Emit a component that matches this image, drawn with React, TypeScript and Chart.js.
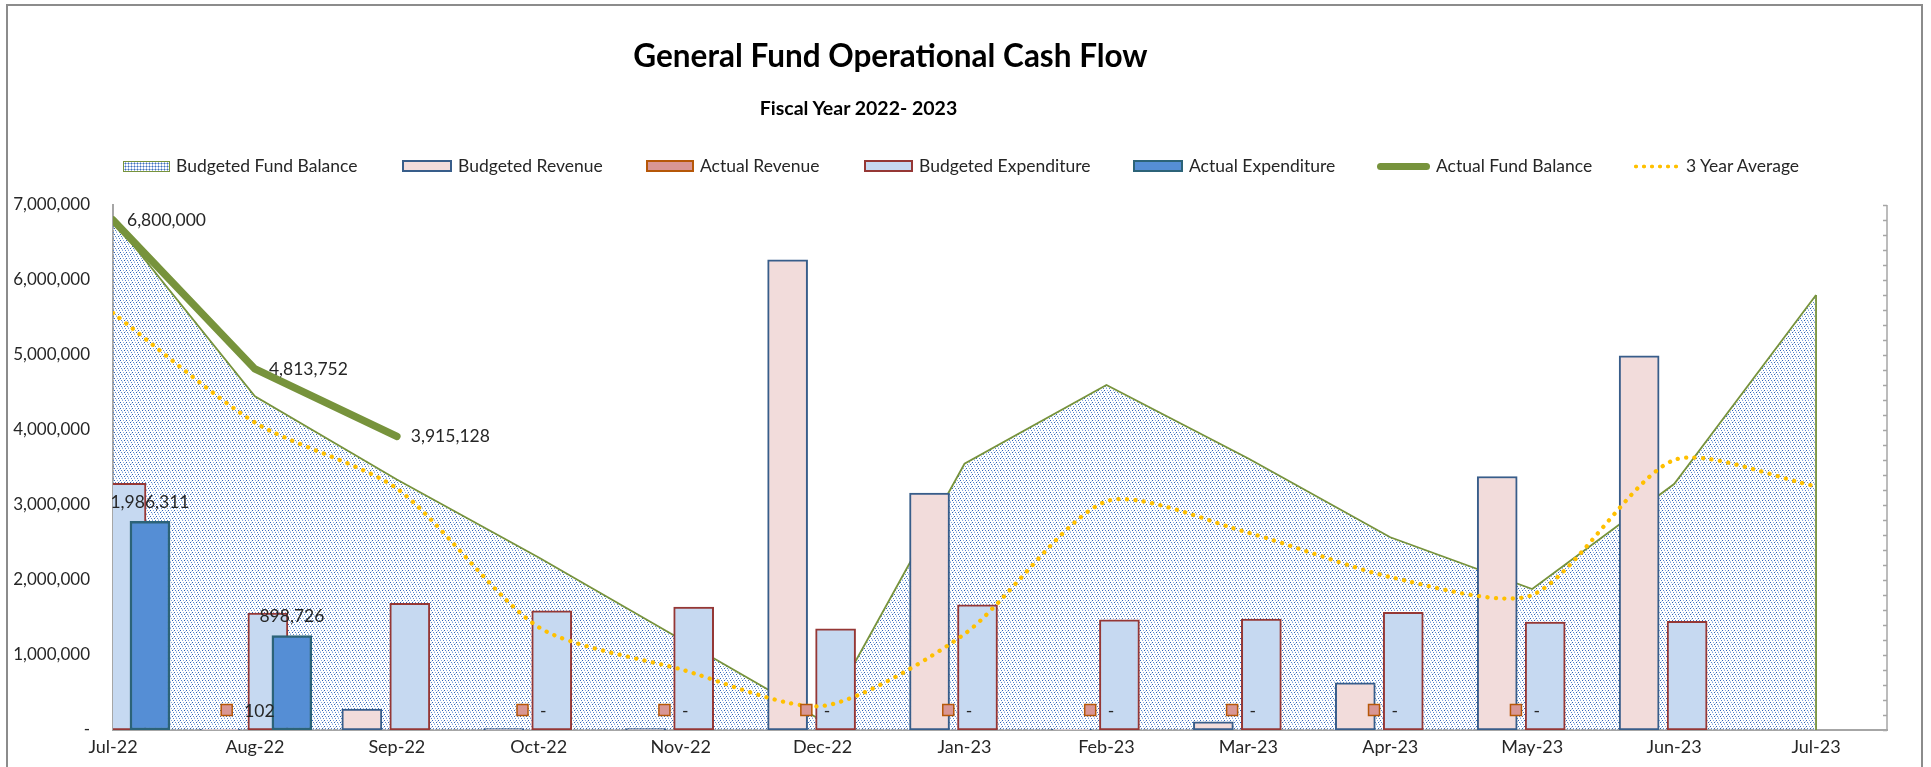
import React, { useEffect, useRef } from 'react';
import { Chart, registerables } from 'chart.js';

Chart.register(...registerables);

// ---------------- data ----------------
const months = ['Jul-22', 'Aug-22', 'Sep-22', 'Oct-22', 'Nov-22', 'Dec-22', 'Jan-23', 'Feb-23', 'Mar-23', 'Apr-23', 'May-23', 'Jun-23', 'Jul-23'];
const budgetedFundBalance = [6800000, 4450000, 3340000, 2300000, 1210000, 120000, 3550000, 4600000, 3620000, 2570000, 1880000, 3280000, 5800000];
const budgetedRevenue = [null, 10000, 280000, 20000, 20000, 6270000, 3160000, 10000, 110000, 630000, 3380000, 4990000, null];
const actualRevenue = [null, 102, null, 0, 0, 0, 0, 0, 0, 0, 0, null, null];
const budgetedExpenditure = [3290000, 1560000, 1690000, 1590000, 1640000, 1350000, 1670000, 1470000, 1480000, 1570000, 1440000, 1450000, null];
const actualExpenditure = [1986311, 898726, null, null, null, null, null, null, null, null, null, null, null];
const actualFundBalance = [6800000, 4813752, 3915128];
const threeYearAverage = [5560000, 4100000, 3220000, 1370000, 810000, 320000, 1280000, 3050000, 2630000, 2040000, 1800000, 3600000, 3250000];
const yTickValues = [0, 1000000, 2000000, 3000000, 4000000, 5000000, 6000000, 7000000];

// ---------------- style ----------------
const W = 1931;
const H = 767;
const FONT = 'Lato, "Open Sans", sans-serif';
const TEXT = '#262626';
const AXIS = '#A6A6A6';
const GREEN = '#77933C';
const GOLD = '#FFC000';
const C_BREV = { fill: '#F2DCDB', border: '#385D8A' };
const C_AREV = { fill: '#D99694', border: '#B65708' };
const C_BEXP = { fill: '#C6D9F1', border: '#953735' };
const C_AEXP = { fill: '#558ED5', border: '#2C6378' };
// bar slot offsets inside a month (in category units)
const SLOT = 0.169;
const SLOT_SHIFT = 0.007;
const slotOffset = (k: number) => (k - 1.5) * SLOT + SLOT_SHIFT;

const fmt = (v: number) => (v === 0 ? '-' : Math.round(v).toLocaleString('en-US'));

function makeDotPattern(ctx: CanvasRenderingContext2D) {
  const t = document.createElement('canvas');
  t.width = 6;
  t.height = 6;
  const c = t.getContext('2d')!;
  const dots: [number, number, string][] = [
    [0, 0, '#2F62B3'], [3, 0, '#86A8DE'], [1, 2, '#5585CC'], [4, 2, '#2F62B3'],
    [2, 4, '#86A8DE'], [5, 4, '#5585CC'], [5, 1, '#C0D2EF'], [2, 3, '#C0D2EF'],
  ];
  dots.forEach(([x, y, col]) => {
    c.fillStyle = col;
    c.fillRect(x, y, 1, 1);
  });
  return ctx.createPattern(t, 'repeat')!;
}

const pts = (arr: (number | null)[], off = 0) => arr.map((v, i) => ({ x: i + off, y: v }));

const customDraw = {
  id: 'customDraw',
  afterDatasetDraw(chart: any, args: any) {
    if (args.index !== 0) return;
    // right-hand closing edge of the budgeted fund balance area
    const meta = chart.getDatasetMeta(0);
    const last = meta.data[meta.data.length - 1];
    const ctx = chart.ctx;
    ctx.save();
    ctx.strokeStyle = GREEN;
    ctx.lineWidth = 1.8;
    ctx.beginPath();
    ctx.moveTo(last.x, last.y);
    ctx.lineTo(last.x, chart.scales.y.getPixelForValue(0));
    ctx.stroke();
    ctx.restore();
  },
  afterDatasetsDraw(chart: any) {
    const ctx = chart.ctx;
    const area = chart.chartArea;
    const yS = chart.scales.y;
    ctx.save();
    // right axis with inward tick marks
    ctx.strokeStyle = AXIS;
    ctx.lineWidth = 1.5;
    ctx.beginPath();
    ctx.moveTo(area.right, area.top);
    ctx.lineTo(area.right, area.bottom);
    for (let v = 0; v <= 7000000; v += 200000) {
      const y = Math.round(yS.getPixelForValue(v)) + 0.5;
      ctx.moveTo(area.right - 4, y);
      ctx.lineTo(area.right, y);
    }
    ctx.stroke();

    ctx.font = `17.5px ${FONT}`;
    ctx.fillStyle = TEXT;

    // actual fund balance labels
    const mFund = chart.getDatasetMeta(5);
    ctx.textAlign = 'left';
    ctx.textBaseline = 'middle';
    mFund.data.forEach((el: any, i: number) => {
      ctx.fillText(fmt(actualFundBalance[i]), el.x + 14, el.y);
    });

    // actual expenditure labels
    const mExp = chart.getDatasetMeta(4);
    ctx.textAlign = 'center';
    mExp.data.forEach((el: any, i: number) => {
      const v = actualExpenditure[i];
      if (v === null) return;
      ctx.fillText(fmt(v), el.x, el.y - 19);
    });

    // actual revenue labels with legend key
    const mRev = chart.getDatasetMeta(2);
    const base = yS.getPixelForValue(0) - 20;
    ctx.textAlign = 'left';
    mRev.data.forEach((el: any, i: number) => {
      const v = actualRevenue[i];
      if (v === null) return;
      const txt = fmt(v);
      const tw = ctx.measureText(txt).width;
      const gw = 11 + 12 + tw;
      const left = el.x + 4 - gw / 2;
      ctx.fillStyle = C_AREV.fill;
      ctx.strokeStyle = C_AREV.border;
      ctx.lineWidth = 1.5;
      ctx.fillRect(left, base - 5.5, 11, 11);
      ctx.strokeRect(left, base - 5.5, 11, 11);
      ctx.fillStyle = TEXT;
      ctx.fillText(txt, left + 23, base + 1);
    });
    ctx.restore();
  },
};

const legendItems = [
  { label: 'Budgeted Fund Balance', left: 123, key: { width: 45, height: 9, border: `1.5px solid ${GREEN}`, backgroundColor: '#fff', backgroundImage: 'radial-gradient(circle, #3F70BF 0.8px, transparent 1.2px)', backgroundSize: '3px 3px' } },
  { label: 'Budgeted Revenue', left: 402, key: { width: 46, height: 8, border: `2px solid ${C_BREV.border}`, backgroundColor: C_BREV.fill } },
  { label: 'Actual Revenue', left: 646, key: { width: 44, height: 8, border: `2px solid ${C_AREV.border}`, backgroundColor: C_AREV.fill } },
  { label: 'Budgeted Expenditure', left: 864, key: { width: 45, height: 8, border: `2px solid ${C_BEXP.border}`, backgroundColor: C_BEXP.fill } },
  { label: 'Actual Expenditure', left: 1133, key: { width: 46, height: 8, border: `2px solid ${C_AEXP.border}`, backgroundColor: C_AEXP.fill } },
  { label: 'Actual Fund Balance', left: 1377, key: { width: 53, height: 7, borderRadius: 4, backgroundColor: GREEN } },
  { label: '3 Year Average', left: 1632, key: { width: 48, height: 5, backgroundImage: `radial-gradient(circle, ${GOLD} 1.7px, transparent 2.2px)`, backgroundSize: '8px 5px' } },
];

export default function App() {
  const ref = useRef<HTMLCanvasElement>(null);

  useEffect(() => {
    let chart: Chart | null = null;
    let cancelled = false;
    const build = () => {
      if (cancelled || !ref.current) return;
      const canvas = ref.current;
      const ctx = canvas.getContext('2d')!;
      const pattern = makeDotPattern(ctx);
      chart = new Chart(canvas, {
        type: 'bar',
        data: {
          datasets: [
            {
              type: 'line',
              label: 'Budgeted Fund Balance',
              data: pts(budgetedFundBalance),
              fill: 'origin',
              backgroundColor: pattern,
              borderColor: GREEN,
              borderWidth: 1.8,
              pointRadius: 0,
              tension: 0,
              order: 10,
            },
            {
              label: 'Budgeted Revenue',
              data: pts(budgetedRevenue, slotOffset(0)),
              backgroundColor: C_BREV.fill,
              borderColor: C_BREV.border,
              borderWidth: 2,
              order: 6,
            },
            {
              label: 'Actual Revenue',
              data: pts(actualRevenue, slotOffset(1)),
              backgroundColor: C_AREV.fill,
              borderColor: C_AREV.border,
              borderWidth: 1.5,
              order: 5,
            },
            {
              label: 'Budgeted Expenditure',
              data: pts(budgetedExpenditure, slotOffset(2)),
              backgroundColor: C_BEXP.fill,
              borderColor: C_BEXP.border,
              borderWidth: 2,
              order: 4,
            },
            {
              label: 'Actual Expenditure',
              data: pts(actualExpenditure, slotOffset(3)),
              backgroundColor: C_AEXP.fill,
              borderColor: C_AEXP.border,
              borderWidth: 2.5,
              yAxisID: 'y2',
              order: 3,
            },
            {
              type: 'line',
              label: 'Actual Fund Balance',
              data: pts(actualFundBalance),
              borderColor: GREEN,
              borderWidth: 7.5,
              borderCapStyle: 'round',
              borderJoinStyle: 'round',
              pointRadius: 0,
              fill: false,
              order: 1,
            },
            {
              type: 'line',
              label: '3 Year Average',
              data: pts(threeYearAverage),
              borderColor: GOLD,
              borderWidth: 4.3,
              borderDash: [0.1, 8.4],
              borderCapStyle: 'round',
              pointRadius: 0,
              tension: 0.25,
              fill: false,
              order: 2,
            },
          ] as any,
        },
        options: {
          responsive: false,
          animation: false,
          events: [],
          layout: { padding: { left: 0, right: 44, top: 205, bottom: 0 } },
          datasets: {
            bar: { grouped: false, barThickness: 40, borderSkipped: false, clip: 0 } as any,
          },
          plugins: {
            legend: { display: false },
            title: { display: false },
            tooltip: { enabled: false },
          },
          scales: {
            x: {
              type: 'linear',
              offset: false,
              min: 0,
              max: 12.5,
              z: 1,
              afterBuildTicks: (s: any) => {
                s.ticks = months.map((_, i) => ({ value: i }));
              },
              afterFit: (s: any) => {
                s.height = 37;
              },
              grid: { display: false, drawTicks: false },
              border: { display: true, color: AXIS, width: 2 },
              ticks: {
                callback: (v: any) => months[v] ?? '',
                autoSkip: false,
                maxRotation: 0,
                minRotation: 0,
                padding: 6,
                color: TEXT,
                font: { family: FONT, size: 18 },
              },
            },
            y: {
              type: 'linear',
              position: 'left',
              min: 0,
              max: 7000000,
              z: 1,
              afterBuildTicks: (s: any) => {
                s.ticks = yTickValues.map((v) => ({ value: v }));
              },
              afterFit: (s: any) => {
                s.width = 113;
              },
              grid: { display: false, drawTicks: false },
              border: { display: true, color: AXIS, width: 2 },
              ticks: {
                callback: (v: any) => fmt(Number(v)),
                padding: 23,
                color: TEXT,
                font: { family: FONT, size: 17 },
              },
            },
            y2: {
              type: 'linear',
              display: false,
              min: 0,
              max: 5000000,
            },
          },
        } as any,
        plugins: [customDraw],
      });
    };
    Promise.all([
      document.fonts.load(`17px Lato`),
      document.fonts.load(`bold 31px Lato`),
    ]).then(build, build);
    return () => {
      cancelled = true;
      if (chart) chart.destroy();
    };
  }, []);

  return (
    <div style={{ position: 'fixed', left: 0, top: 0, width: W, height: H, background: '#fff', overflow: 'hidden', fontFamily: FONT }}>
      <canvas ref={ref} width={W} height={H} style={{ position: 'absolute', left: 0, top: 0, width: W, height: H }} />
      <div style={{ position: 'absolute', left: 6, top: 4, width: 1913, height: 800, borderTop: '2px solid #8C8C8C', borderLeft: '2px solid #8C8C8C', borderRight: '2px solid #8C8C8C', pointerEvents: 'none' }} />
      <div style={{ position: 'absolute', left: 0, width: 1781, top: 37, textAlign: 'center', fontWeight: 700, fontSize: 31.5, lineHeight: 1.2, color: '#000', whiteSpace: 'nowrap' }}>
        General Fund Operational Cash Flow
      </div>
      <div style={{ position: 'absolute', left: 0, width: 1717, top: 96, textAlign: 'center', fontWeight: 700, fontSize: 19.5, lineHeight: 1.2, color: '#000', whiteSpace: 'nowrap' }}>
        Fiscal Year 2022- 2023
      </div>
      {legendItems.map((it) => (
        <div key={it.label} style={{ position: 'absolute', left: it.left, top: 155, height: 22, display: 'flex', alignItems: 'center', whiteSpace: 'nowrap' }}>
          <div style={{ boxSizing: 'content-box', flex: 'none', ...(it.key as any) }} />
          <span style={{ marginLeft: 6, fontSize: 17.5, lineHeight: '22px', color: TEXT }}>{it.label}</span>
        </div>
      ))}
    </div>
  );
}
